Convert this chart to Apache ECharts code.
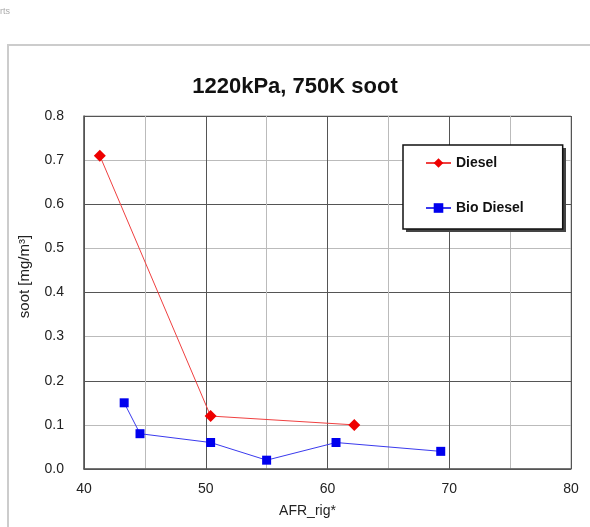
<!DOCTYPE html>
<html>
<head>
<meta charset="utf-8">
<script src="https://cdn.jsdelivr.net/npm/echarts@6/dist/echarts.min.js"></script>
<style>
  html, body { margin: 0; padding: 0; background: #fff; }
  #chart { width: 590px; height: 527px; }
</style>
</head>
<body>
<div id="chart"></div>
<script>
// 数据
const dieselAfr = [41.3, 50.4, 62.2];
const dieselSoot = [0.71, 0.12, 0.10];
const bioAfr = [43.3, 44.6, 50.4, 55.0, 60.7, 69.3];
const bioSoot = [0.15, 0.08, 0.06, 0.02, 0.06, 0.04];
const seriesNames = ['Diesel', 'Bio Diesel'];

const toPairs = (xs, ys) => xs.map((x, i) => [x, ys[i]]);

const font = 'Liberation Sans, Arial, sans-serif';
const myChart = echarts.init(document.getElementById('chart'));

const option = {
  animation: false,
  backgroundColor: '#fff',
  textStyle: { fontFamily: font },
  graphic: [
    { type: 'text', left: 0, top: 7, style: { text: 'rts', fill: '#aaa', fontSize: 9, fontFamily: font } },
    { type: 'polyline', shape: { points: [[8, 527], [8, 45], [590, 45]] }, style: { stroke: '#ccc', lineWidth: 2, fill: null } },
    // 图例阴影
    { type: 'rect', z: 5, shape: { x: 406, y: 148, width: 160, height: 84 }, style: { fill: '#444' } }
  ],
  title: {
    text: '1220kPa, 750K soot',
    left: 'center',
    top: 71,
    textStyle: { fontSize: 22, fontWeight: 'bold', color: '#111', fontFamily: font }
  },
  legend: {
    data: seriesNames,
    orient: 'vertical',
    z: 6,
    left: 403,
    top: 145,
    padding: [11, 39, 14, 22],
    itemWidth: 25,
    itemHeight: 12,
    itemGap: 31,
    backgroundColor: '#fff',
    borderColor: '#111',
    borderWidth: 1.5,
    textStyle: { fontSize: 14, fontWeight: 'bold', color: '#111', fontFamily: font }
  },
  grid: {
    left: 84,
    right: 19,
    top: 116,
    bottom: 58,
    show: true,
    borderColor: '#aaa',
    borderWidth: 1
  },
  xAxis: {
    type: 'value',
    min: 40,
    max: 80,
    interval: 5,
    name: 'AFR_rig*',
    nameLocation: 'middle',
    nameGap: 35,
    nameTextStyle: { fontSize: 14, color: '#222', padding: [0, 40, 0, 0] },
    axisLine: { show: true, lineStyle: { color: '#555', width: 1.5 } },
    axisTick: { show: false },
    axisLabel: {
      fontSize: 14,
      color: '#222',
      margin: 13,
      formatter: v => (v % 10 === 0 ? String(v) : '')
    },
    splitLine: { show: true, lineStyle: { color: ['#555', '#bbb'], width: 1 } }
  },
  yAxis: {
    type: 'value',
    min: 0,
    max: 0.8,
    interval: 0.1,
    name: 'soot [mg/m³]',
    nameLocation: 'middle',
    nameGap: 52,
    nameTextStyle: { fontSize: 15, color: '#222', padding: [0, 0, 0, 32] },
    axisLine: { show: true, lineStyle: { color: '#555', width: 1.5 } },
    axisTick: { show: false },
    axisLabel: {
      fontSize: 14,
      color: '#222',
      margin: 20,
      formatter: v => v.toFixed(1)
    },
    splitLine: { show: true, lineStyle: { color: ['#555', '#bbb'], width: 1 } }
  },
  series: [
    {
      name: 'Diesel',
      type: 'line',
      data: toPairs(dieselAfr, dieselSoot),
      symbol: 'diamond',
      symbolSize: 12,
      itemStyle: { color: '#ee0000' },
      lineStyle: { color: '#f04040', width: 1 }
    },
    {
      name: 'Bio Diesel',
      type: 'line',
      data: toPairs(bioAfr, bioSoot),
      symbol: 'rect',
      symbolSize: 9,
      itemStyle: { color: '#0000ee' },
      lineStyle: { color: '#3a3aee', width: 1 }
    }
  ]
};

myChart.setOption(option);
</script>
</body>
</html>
